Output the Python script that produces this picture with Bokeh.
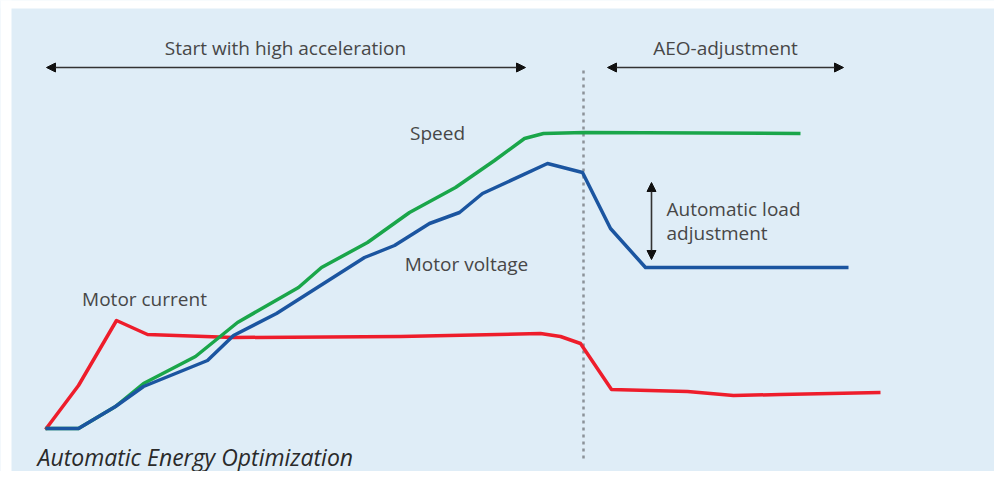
from bokeh.plotting import figure
from bokeh.models import Range1d, Arrow, NormalHead, Label
from bokeh.embed import file_html
from bokeh.resources import INLINE

# time axis (arbitrary units ~ horizontal position) and level (arbitrary units)
speed_t = [45, 78, 115, 143, 195, 237, 298, 321, 367, 409, 455, 494, 524, 543, 584, 800]
speed_v = [51, 51, 73, 96, 123, 157, 192, 212, 237, 267, 292, 319, 341, 346, 347, 346]

volt_t = [45, 78, 115, 143, 207, 233, 276, 364, 394, 429, 459, 482, 547, 582, 610, 645, 848]
volt_v = [51, 51, 73, 93, 119, 144, 166, 222, 234, 256, 267, 286, 316, 307, 251, 212, 212]

curr_t = [45, 78, 116, 147, 233, 400, 540, 560, 580, 611, 687, 733, 780, 880]
curr_v = [50, 94, 159, 145, 142, 143, 146, 143, 136, 90, 88, 84, 85, 87]

switch_t = 583

W, H = 994, 471
BG = "#DFEDF7"

p = figure(width=W, height=H, output_backend="svg", toolbar_location=None,
           x_range=Range1d(0, W), y_range=Range1d(8, 8 + H),
           min_border=0, min_border_left=0, min_border_right=0,
           min_border_top=0, min_border_bottom=0)
p.axis.visible = False
p.grid.visible = False
p.outline_line_color = None
p.background_fill_color = BG
p.border_fill_color = "white"

# white margins above and left of the panel
p.quad(left=[0], right=[11], bottom=[0], top=[480], fill_color="white", line_color=None)
p.quad(left=[0], right=[W + 10], bottom=[471], top=[480], fill_color="white", line_color=None)

# dotted switch line
p.segment(x0=[switch_t], y0=[21], x1=[switch_t], y1=[413], line_color="#8C9299",
          line_width=2.5, line_dash="3 4")

p.line(curr_t, curr_v, line_color="#EE1D2B", line_width=3.5, line_join="round")
p.line(speed_t, speed_v, line_color="#1AA64A", line_width=3.5, line_join="round")
p.line(volt_t, volt_v, line_color="#1B55A0", line_width=3.5, line_join="round")

def dbl_arrow(x0, y0, x1, y1):
    p.add_layout(Arrow(x_start=x0, y_start=y0, x_end=x1, y_end=y1,
                       line_color="#333333", line_width=1.6,
                       start=NormalHead(size=9, fill_color="#111111", line_color="#111111"),
                       end=NormalHead(size=9, fill_color="#111111", line_color="#111111")))

dbl_arrow(46, 412, 525, 412)
dbl_arrow(607, 412, 843, 412)
dbl_arrow(651, 297, 651, 220)

FONT = "Open Sans"
TC = "#474747"

def lab(x, y, t, size="19px", align="left", color=TC, style="normal", baseline="middle"):
    p.add_layout(Label(x=x, y=y, text=t, text_font=FONT, text_font_size=size,
                       text_color=color, text_align=align, text_baseline=baseline,
                       text_font_style=style))

lab(285, 432, "Start with high acceleration", align="center")
lab(725, 432, "AEO-adjustment", align="center")
lab(437, 347, "Speed", align="center")
lab(466, 216, "Motor voltage", align="center")
lab(144, 181, "Motor current", align="center")
lab(666, 271, "Automatic load")
lab(666, 247, "adjustment")
lab(37, 23, "Automatic Energy Optimization", size="23px", color="#2A2A2A",
    style="italic")

html = file_html(p, INLINE)
html = html.replace("<body>", '<body style="background-color:%s">' % BG, 1)
open("out.html", "w").write(html)
